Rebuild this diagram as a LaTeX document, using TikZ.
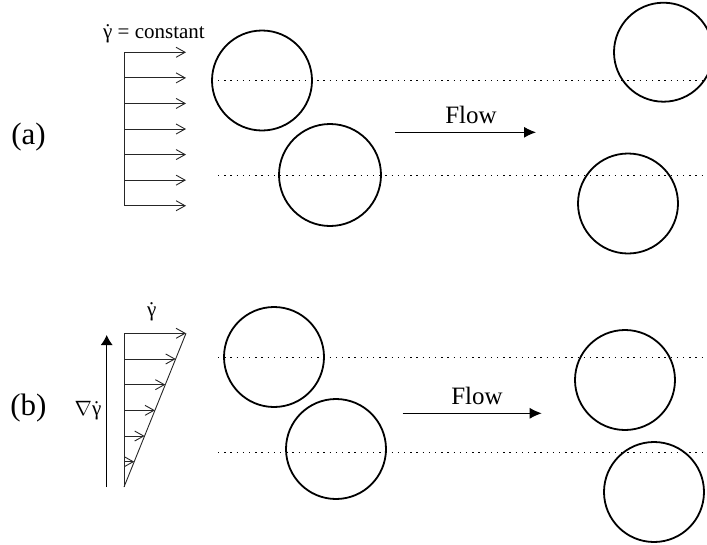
\documentclass[tikz,border=0pt]{standalone}
\usepackage{fontspec}
\setmainfont{Liberation Serif}
\usetikzlibrary{arrows.meta}
\newcommand\gamdot{\setbox0\hbox{γ}\hbox to \wd0{\hss\char"02D9\hss}\kern-\wd0 γ}
\tikzset{
  thinline/.style={line width=0.9pt, black!85},
  profarrow/.style={thinline, -{Straight Barb[length=9pt,width=10pt,line width=0.9pt]}},
  flowarrow/.style={line width=1pt, -{Latex[length=12pt,width=11pt]}},
  gradarrow/.style={line width=1pt, -{Latex[length=10pt,width=12pt]}},
  particle/.style={circle, draw, line width=1.8pt, minimum size=100pt, inner sep=0pt},
  dotline/.style={line width=1.3pt, dash pattern=on 1.3pt off 4.9pt},
  lbl/.style={inner sep=0pt, font=\fontsize{31}{35}\selectfont},
  txt/.style={inner sep=0pt, font=\fontsize{21}{25}\selectfont},
  flowtxt/.style={inner sep=0pt, font=\fontsize{25}{29}\selectfont, anchor=base},
}
\begin{document}
\begin{tikzpicture}[x=1pt,y=-1pt]
\useasboundingbox (0,0) rectangle (707,544);
% ---------- (a) ----------
\node[lbl] (la) at (28.5,137.5) {(a)};
\node[txt, anchor=base] (ga) at (154,38) {\gamdot{} = constant};
\coordinate (pa0) at (124.5,52.3);
\coordinate (pa1) at (124.5,205.7);
\draw[thinline] (pa0) -- (pa1);
\foreach \k in {0,...,6}{
  \coordinate (sa\k) at (124.5,52.3+25.57*\k);
  \coordinate (ea\k) at (186,52.3+25.57*\k);
  \draw[profarrow] (sa\k) -- (ea\k);
}
\coordinate (da1s) at (218,80.4);
\coordinate (da1e) at (707,80.4);
\coordinate (da2s) at (218,175.4);
\coordinate (da2e) at (707,175.4);
\draw[dotline] (da1s) -- (da1e);
\draw[dotline] (da2s) -- (da2e);
\node[particle] (a1) at (262,80.5) {};
\node[particle, minimum size=102pt] (a2) at (330,175) {};
\node[particle, minimum size=99pt] (a3) at (663.5,52.2) {};
\node[particle] (a4) at (628,203.5) {};
\coordinate (fa0) at (395,132.3);
\coordinate (fa1) at (536,132.3);
\draw[flowarrow] (fa0) -- (fa1);
\node[flowtxt] (fla) at (471,123.3) {Flow};
% ---------- (b) ----------
\node[lbl] (lb) at (28.5,408.5) {(b)};
\node[txt, anchor=base] (nb) at (88,415) {$\nabla$\gamdot};
\coordinate (g0) at (106.7,487);
\coordinate (g1) at (106.7,335);
\draw[gradarrow] (g0) -- (g1);
\node[txt, anchor=base] (gb) at (151.7,316) {\gamdot};
\coordinate (pb0) at (124,333.3);
\coordinate (pb1) at (124,487);
\coordinate (pbt) at (186,333.3);
\draw[thinline] (pb0) -- (pb1);
\draw[thinline] (pb1) -- (pbt);
\foreach \k in {0,...,5}{
  \pgfmathsetmacro{\yy}{333.3+25.68*\k}
  \pgfmathsetmacro{\xx}{186-(\yy-333.3)*62/153.7}
  \coordinate (sb\k) at (124,\yy);
  \coordinate (eb\k) at (\xx,\yy);
  \draw[profarrow] (sb\k) -- (eb\k);
}
\coordinate (db1s) at (218,357.4);
\coordinate (db1e) at (707,357.4);
\coordinate (db2s) at (218,452.6);
\coordinate (db2e) at (707,452.6);
\draw[dotline] (db1s) -- (db1e);
\draw[dotline] (db2s) -- (db2e);
\node[particle] (b1) at (274,357) {};
\node[particle] (b2) at (336,449) {};
\node[particle] (b3) at (625,380) {};
\node[particle] (b4) at (654,492) {};
\coordinate (fb0) at (402.7,413.3);
\coordinate (fb1) at (541.7,413.3);
\draw[flowarrow] (fb0) -- (fb1);
\node[flowtxt] (flb) at (477,404) {Flow};
\end{tikzpicture}
\end{document}
